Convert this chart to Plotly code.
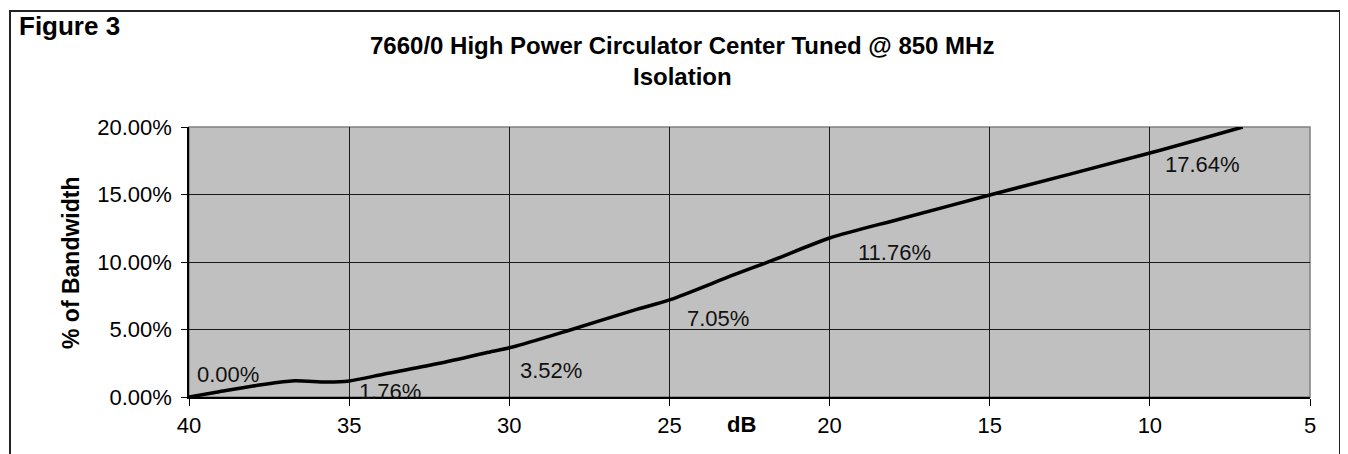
import plotly.graph_objects as go

# ---- data ----
isolation_db = [40.0, 39.1, 38.0, 36.8, 35.7, 35.0, 33.9, 32.3, 30.75, 29.9,
                28.2, 26.1, 25.0, 23.0, 21.75, 20.0, 17.8, 15.0, 10.0, 7.1]
bandwidth_pct = [0.0, 0.37, 0.81, 1.19, 1.11, 1.19, 1.70, 2.44, 3.26, 3.70,
                 4.89, 6.44, 7.19, 9.04, 10.15, 11.78, 13.19, 14.96, 18.07, 20.0]

label_values = [0.00, 1.76, 3.52, 7.05, 11.76, 17.64]

x_ticks = [40, 35, 30, 25, 20, 15, 10, 5]
y_ticks = [0, 5, 10, 15, 20]

# label placement (data coordinates of each label's left/middle anchor)
label_pos_x = [39.81, 34.75, 29.72, 24.5, 19.19, 9.59]
label_pos_y = [1.70, 0.44, 1.96, 5.85, 10.67, 17.19]

OFF = 8                      # default page body margin
W, H = 1348 - OFF, 454 - OFF
L, R, T, B = 189, 1310, 127, 397  # plot area in window px

def px(x):
    return (x - L) / (R - L)

def py(y):
    return (B - y) / (B - T)

FONT = "Liberation Sans, Arial, sans-serif"

fig = go.Figure()
fig.add_trace(go.Scatter(
    x=isolation_db, y=bandwidth_pct, mode="lines",
    line=dict(color="black", width=3.5, shape="spline", smoothing=0.8),
    hoverinfo="skip", showlegend=False, cliponaxis=True,
))

annotations = []
for v, lx, ly in zip(label_values, label_pos_x, label_pos_y):
    annotations.append(dict(
        x=lx, y=ly, xref="x", yref="y", text=f"{v:.2f}%", showarrow=False,
        xanchor="left", yanchor="middle", font=dict(family=FONT, size=22, color="#111"),
    ))

annotations += [
    dict(x=px(17), y=py(26), xref="paper", yref="paper", text="<b>Figure 3</b>",
         showarrow=False, xanchor="left", yanchor="middle",
         font=dict(family=FONT, size=26, color="black")),
    dict(x=px(682), y=py(46), xref="paper", yref="paper",
         text="<b>7660/0 High Power Circulator Center Tuned @ 850 MHz</b>",
         showarrow=False, xanchor="center", yanchor="middle",
         font=dict(family=FONT, size=24, color="black")),
    dict(x=px(682), y=py(76), xref="paper", yref="paper",
         text="<b>Isolation</b>",
         showarrow=False, xanchor="center", yanchor="middle",
         font=dict(family=FONT, size=24, color="black")),
    dict(x=px(71), y=py(263), xref="paper", yref="paper", text="<b>% of Bandwidth</b>",
         textangle=-90, showarrow=False, xanchor="center", yanchor="middle",
         font=dict(family=FONT, size=23, color="black")),
    dict(x=px(741), y=py(424), xref="paper", yref="paper", text="<b>dB</b>",
         showarrow=False, xanchor="center", yanchor="middle",
         font=dict(family=FONT, size=22, color="black")),
]

shapes = [
    # plot area gray border
    dict(type="rect", xref="paper", yref="paper", x0=0, x1=1, y0=0, y1=1,
         line=dict(color="#808080", width=1.5), layer="below"),
    # outer chart border
    dict(type="rect", xref="paper", yref="paper", x0=px(10), x1=px(1340),
         y0=py(480), y1=py(11), line=dict(color="#222", width=2)),
]

fig.update_layout(
    width=W, height=H,
    margin=dict(l=L - OFF, r=W - (R - OFF), t=T - OFF, b=H - (B - OFF), pad=0),
    paper_bgcolor="white", plot_bgcolor="#C0C0C0",
    font=dict(family=FONT, size=22, color="black"),
    annotations=annotations, shapes=shapes,
    showlegend=False,
)
fig.update_xaxes(
    range=[40, 5], tickmode="array", tickvals=x_ticks,
    ticktext=[str(t) for t in x_ticks],
    showgrid=True, gridcolor="#1a1a1a", gridwidth=1,
    showline=True, linecolor="black", linewidth=1.5,
    ticks="outside", ticklen=7, tickcolor="black", tickwidth=1,
    ticklabelstandoff=1, zeroline=False,
    tickfont=dict(family=FONT, size=22, color="black"),
)
fig.update_yaxes(
    range=[0, 20], tickmode="array", tickvals=y_ticks,
    ticktext=[f"{t:.2f}%" for t in y_ticks],
    showgrid=True, gridcolor="#1a1a1a", gridwidth=1,
    showline=True, linecolor="black", linewidth=1.5,
    ticks="outside", ticklen=6, tickcolor="black", tickwidth=1,
    ticklabelstandoff=5, zeroline=False,
    tickfont=dict(family=FONT, size=22, color="black"),
)

fig.write_html("out.html")
